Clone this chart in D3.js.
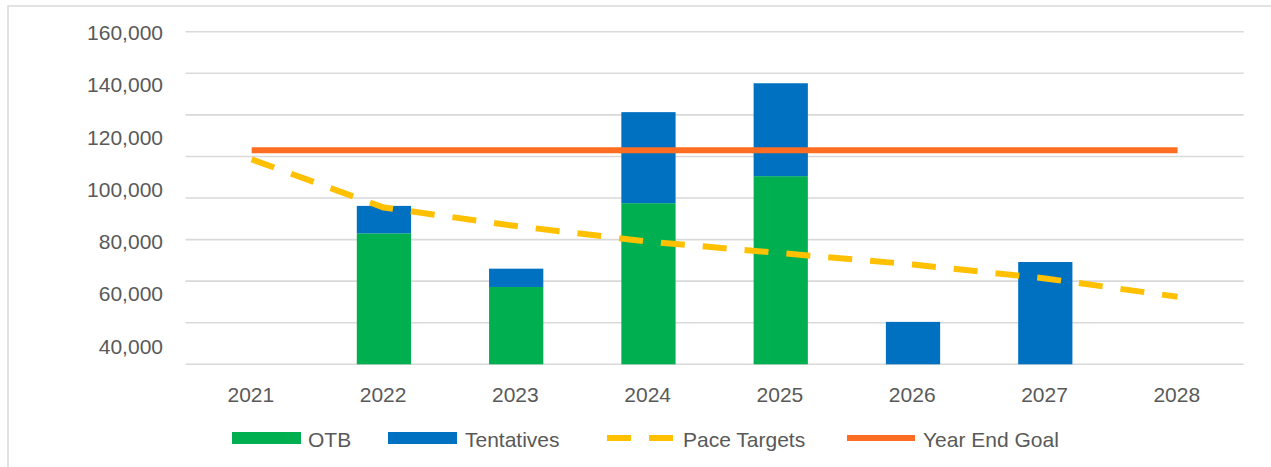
<!DOCTYPE html>
<html>
<head>
<meta charset="utf-8">
<script src="https://cdn.jsdelivr.net/npm/d3@7"></script>
<style>
  html, body { margin: 0; padding: 0; background: #ffffff; }
  svg { display: block; }
  text { font-family: "Liberation Sans", Arial, sans-serif; fill: #595959; }
</style>
</head>
<body>
<svg id="chart" width="1271" height="467"></svg>
<script>
// ---- data ----
const years = ["2021", "2022", "2023", "2024", "2025", "2026", "2027", "2028"];
const otb = [0, 63000, 37200, 77500, 90500, 0, 0, 0];
const tentatives = [0, 13200, 8800, 43800, 44700, 20400, 49200, 0];
const paceTargets = [98600, 75400, 66500, 59000, 53500, 48000, 41300, 32500];
const yearEndGoal = [103000, 103000, 103000, 103000, 103000, 103000, 103000, 103000];
const yTickLabels = ["160,000", "140,000", "120,000", "100,000", "80,000", "60,000", "40,000"];
const yTickValues = [160000, 140000, 120000, 100000, 80000, 60000, 40000];
const legendNames = ["OTB", "Tentatives", "Pace Targets", "Year End Goal"];

// ---- layout ----
const svg = d3.select("#chart");
const plot = { left: 185.5, right: 1243.7, top: 31.7, bottom: 364.3 };
const colors = { otb: "#00b050", tent: "#0070c0", pace: "#ffc000", goal: "#ff6d22", grid: "#d9d9d9" };

// chart border (clipped on right / bottom like the reference)
svg.append("rect").attr("x", 8).attr("y", 6).attr("width", 1290).attr("height", 490)
  .attr("fill", "none").attr("stroke", "#d9d9d9").attr("stroke-width", 1.5);

const x = d3.scaleBand().domain(years).range([plot.left, plot.right])
  .paddingInner(0.59).paddingOuter(0.295);
const y = d3.scaleLinear().domain([0, 160000]).range([plot.bottom, plot.top]);
const yLabel = d3.scaleLinear().domain([40000, 160000]).range([346, 32.7]);

// gridlines
svg.append("g").selectAll("line").data(y.ticks(8)).join("line")
  .attr("x1", plot.left).attr("x2", plot.right)
  .attr("y1", d => y(d)).attr("y2", d => y(d))
  .attr("stroke", colors.grid).attr("stroke-width", 1.6);

// y tick labels
svg.append("g").selectAll("text").data(yTickValues).join("text")
  .attr("x", 163).attr("y", d => yLabel(d)).attr("dy", "0.36em")
  .attr("text-anchor", "end").style("font-size", "21px")
  .text((d, i) => yTickLabels[i]);

// x labels
svg.append("g").selectAll("text").data(years).join("text")
  .attr("x", d => x(d) + x.bandwidth() / 2 - 0.8).attr("y", 401.7)
  .attr("text-anchor", "middle").style("font-size", "21px")
  .text(d => d);

// stacked bars
const rows = years.map((yr, i) => ({ year: yr, otb: otb[i], tent: tentatives[i] }));
const stack = d3.stack().keys(["otb", "tent"])(rows);
const barColors = [colors.otb, colors.tent];
svg.append("g").selectAll("g").data(stack).join("g")
  .attr("fill", (d, i) => barColors[i])
  .selectAll("rect").data(d => d.filter(s => s[1] - s[0] > 0)).join("rect")
  .attr("x", d => x(d.data.year)).attr("width", x.bandwidth())
  .attr("y", d => y(d[1])).attr("height", d => y(d[0]) - y(d[1]));

// lines
const cx = yr => x(yr) + x.bandwidth() / 2;
const line = d3.line().x(d => cx(d.year)).y(d => y(d.v));
svg.append("path")
  .datum(years.map((yr, i) => ({ year: yr, v: yearEndGoal[i] })))
  .attr("d", line).attr("fill", "none").attr("stroke", colors.goal).attr("stroke-width", 6);
svg.append("path")
  .datum(years.map((yr, i) => ({ year: yr, v: paceTargets[i] })))
  .attr("d", line).attr("fill", "none").attr("stroke", colors.pace).attr("stroke-width", 6)
  .attr("stroke-dasharray", "24,18").attr("stroke-linejoin", "round");

// legend
const lg = svg.append("g");
const ly = 438;
lg.append("rect").attr("x", 232).attr("y", ly - 6).attr("width", 69).attr("height", 12).attr("fill", colors.otb);
lg.append("text").attr("x", 308).attr("y", 446.5).style("font-size", "21px").text(legendNames[0]);
lg.append("rect").attr("x", 388).attr("y", ly - 6).attr("width", 69).attr("height", 12).attr("fill", colors.tent);
lg.append("text").attr("x", 465).attr("y", 446.5).style("font-size", "21px").text(legendNames[1]);
lg.append("line").attr("x1", 607).attr("x2", 673).attr("y1", ly).attr("y2", ly)
  .attr("stroke", colors.pace).attr("stroke-width", 6).attr("stroke-dasharray", "24,18");
lg.append("text").attr("x", 683).attr("y", 446.5).style("font-size", "21px").text(legendNames[2]);
lg.append("line").attr("x1", 847).attr("x2", 915).attr("y1", ly).attr("y2", ly)
  .attr("stroke", colors.goal).attr("stroke-width", 6);
lg.append("text").attr("x", 923).attr("y", 446.5).style("font-size", "21px").text(legendNames[3]);
</script>
</body>
</html>
